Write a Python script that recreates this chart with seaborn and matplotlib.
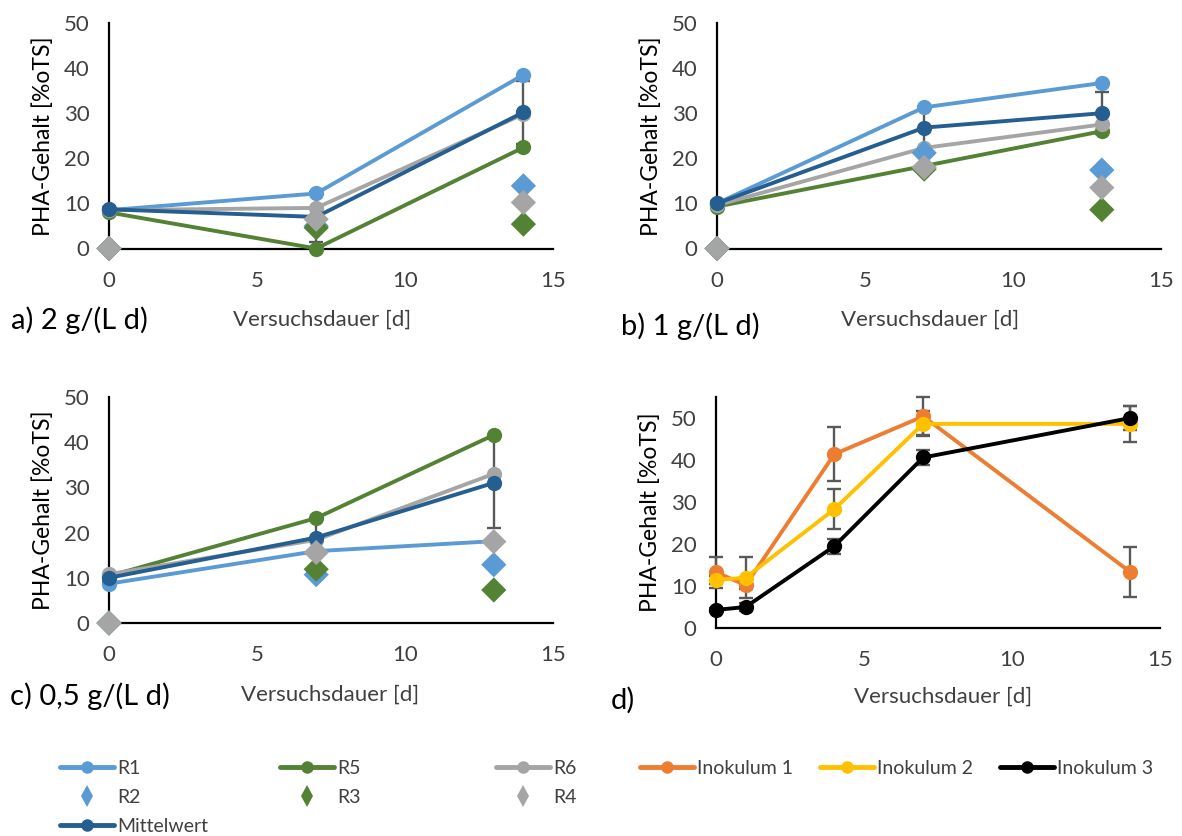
import matplotlib
matplotlib.use('Agg')
import matplotlib.pyplot as plt
import seaborn as sns
from matplotlib.lines import Line2D

sns.set_theme(style='white')
plt.rcParams['font.family'] = ['Lato', 'DejaVu Sans']

# ---------------- data ----------------
days_a = [0, 7, 14]
a_R1 = [8.5, 12.2, 38.5]
a_R5 = [8.0, 0.0, 22.4]
a_R6 = [8.5, 9.0, 29.8]
a_mean = [8.7, 7.0, 30.2]
a_mean_err = [0.5, 5.5, 7.0]
a_R2 = [0.0, 5.0, 13.9]
a_R3 = [0.0, 4.6, 5.4]
a_R4 = [0.0, 6.5, 10.2]

days_b = [0, 7, 13]
b_R1 = [10.0, 31.3, 36.7]
b_R5 = [9.3, 18.3, 26.0]
b_R6 = [9.6, 22.3, 27.5]
b_mean = [10.0, 26.8, 30.0]
b_mean_err = [0.5, 4.5, 4.6]
b_R2 = [0.0, 21.2, 17.4]
b_R3 = [0.0, 17.6, 8.6]
b_R4 = [0.0, 18.0, 13.5]

days_c = [0, 7, 13]
c_R1 = [8.7, 15.9, 18.1]
c_R5 = [10.4, 23.2, 41.6]
c_R6 = [10.8, 18.4, 33.0]
c_mean = [10.0, 18.9, 31.0]
c_mean_err = [0.9, 4.3, 10.0]
c_R2 = [0.0, 10.7, 12.9]
c_R3 = [0.0, 11.9, 7.3]
c_R4 = [0.0, 15.6, 18.0]

days_d = [0, 1, 4, 7, 14]
ino1 = [13.3, 10.2, 41.4, 50.4, 13.3]
ino1_err = [3.7, 1.0, 6.5, 4.5, 6.0]
ino2 = [11.4, 12.0, 28.3, 48.6, 48.6]
ino2_err = [1.0, 4.9, 4.7, 3.0, 4.2]
ino3 = [4.3, 5.0, 19.5, 40.6, 50.0]
ino3_err = [0.5, 1.0, 1.8, 1.8, 2.8]

panel_labels = ['a) 2 g/(L d)', 'b) 1 g/(L d)', 'c) 0,5 g/(L d)', 'd)']
xlabel = 'Versuchsdauer [d]'
ylabel = 'PHA-Gehalt [%oTS]'

# ---------------- style ----------------
C_R1 = '#5B9BD5'
C_R5 = '#548235'
C_R6 = '#A5A5A5'
C_MEAN = '#255E91'
C_I1 = '#ED7D31'
C_I2 = '#FFC000'
C_I3 = '#000000'
C_ERR = '#595959'
TXT = '#404040'

W, H = 1182, 836
fig = plt.figure(figsize=(W / 100, H / 100), dpi=100)


def ax_rect(x0, x15, y0, ytop):
    return [x0 / W, 1 - y0 / H, (x15 - x0) / W, (y0 - ytop) / H]


ax_a = fig.add_axes(ax_rect(109, 553, 248.5, 23))
ax_b = fig.add_axes(ax_rect(717, 1161, 248.5, 23))
ax_c = fig.add_axes(ax_rect(109, 553, 623, 397))
ax_d = fig.add_axes(ax_rect(716, 1160, 628, 397))


def style_axis(ax, ymax, yticks):
    ax.set_xlim(0, 15)
    ax.set_ylim(0, ymax)
    ax.set_xticks([0, 5, 10, 15])
    ax.set_yticks(yticks)
    for s in ['top', 'right']:
        ax.spines[s].set_visible(False)
    for s in ['left', 'bottom']:
        ax.spines[s].set_color('black')
        ax.spines[s].set_linewidth(1.6)
        ax.spines[s].set_zorder(1)
    ax.tick_params(axis='x', length=0, pad=16, labelsize=16, labelcolor=TXT)
    ax.tick_params(axis='y', length=0, pad=14, labelsize=16, labelcolor=TXT)
    ax.set_xlabel('')
    ax.set_ylabel(ylabel, fontsize=16.5, color='black', labelpad=7)
    ax.grid(False)
    ax.set_facecolor('none')


def line(ax, x, y, color, z):
    sns.lineplot(x=x, y=y, color=color, marker='o', markersize=11,
                 markeredgewidth=0, linewidth=2.8, sort=False,
                 errorbar=None, ax=ax, clip_on=False, zorder=z)


def diamonds(ax, x, y, color, z):
    sns.scatterplot(x=x, y=y, color=color, marker='D', s=165,
                    edgecolor='none', linewidth=0, ax=ax,
                    clip_on=False, zorder=z)


def errs(ax, x, y, e, z=2):
    ax.errorbar(x, y, yerr=e, fmt='none', ecolor=C_ERR, elinewidth=1.7,
                capsize=5, capthick=1.7, zorder=z, clip_on=False)


for ax, days, R1, R5, R6, M, Me, R2, R3, R4 in [
    (ax_a, days_a, a_R1, a_R5, a_R6, a_mean, a_mean_err, a_R2, a_R3, a_R4),
    (ax_b, days_b, b_R1, b_R5, b_R6, b_mean, b_mean_err, b_R2, b_R3, b_R4),
    (ax_c, days_c, c_R1, c_R5, c_R6, c_mean, c_mean_err, c_R2, c_R3, c_R4),
]:
    errs(ax, days, M, Me, z=3)
    line(ax, days, R1, C_R1, 4)
    line(ax, days, R5, C_R5, 4)
    line(ax, days, R6, C_R6, 4)
    line(ax, days, M, C_MEAN, 5)
    diamonds(ax, days, R2, C_R1, 6)
    diamonds(ax, days, R3, C_R5, 6)
    diamonds(ax, days, R4, C_R6, 6)
    style_axis(ax, 50, [0, 10, 20, 30, 40, 50])

errs(ax_d, days_d, ino1, ino1_err, z=3)
errs(ax_d, days_d, ino2, ino2_err, z=3)
errs(ax_d, days_d, ino3, ino3_err, z=3)
line(ax_d, days_d, ino1, C_I1, 4)
line(ax_d, days_d, ino2, C_I2, 4)
line(ax_d, days_d, ino3, C_I3, 5)
style_axis(ax_d, 55, [0, 10, 20, 30, 40, 50])

for ax in (ax_a, ax_b, ax_c, ax_d):
    if ax.get_legend() is not None:
        ax.get_legend().remove()

# x labels and panel labels
for (x, y) in [(322, 320), (930, 320), (330, 695), (943, 697)]:
    fig.text(x / W, 1 - y / H, xlabel, ha='center', va='center',
             fontsize=16, color=TXT)
for lab, (x, y) in zip(panel_labels, [(11, 320), (621, 326), (10, 696), (611, 700)]):
    fig.text(x / W, 1 - y / H, lab, ha='left', va='center',
             fontsize=21, color='black')

# ---------------- legends ----------------
def lh(color):
    return Line2D([], [], color=color, linewidth=3.5, marker='o',
                  markersize=9, markeredgewidth=0)


def dh(color):
    return Line2D([], [], color=color, linestyle='none', marker='d',
                  markersize=11, markeredgewidth=0)


cols = [
    (60, [lh(C_R1), dh(C_R1), lh(C_MEAN)], ['R1', 'R2', 'Mittelwert']),
    (280, [lh(C_R5), dh(C_R5)], ['R5', 'R3']),
    (496, [lh(C_R6), dh(C_R6)], ['R6', 'R4']),
    (640, [lh(C_I1)], ['Inokulum 1']),
    (820, [lh(C_I2)], ['Inokulum 2']),
    (1000, [lh(C_I3)], ['Inokulum 3']),
]
for x, hs, ls in cols:
    fig.legend(hs, ls, loc='upper left',
               bbox_to_anchor=(x / W, 1 - 760 / H),
               frameon=False, borderpad=0, borderaxespad=0,
               handlelength=2.8, handletextpad=0.15,
               labelspacing=0.62, fontsize=14, labelcolor=TXT)

fig.savefig('out.png', dpi=100)
